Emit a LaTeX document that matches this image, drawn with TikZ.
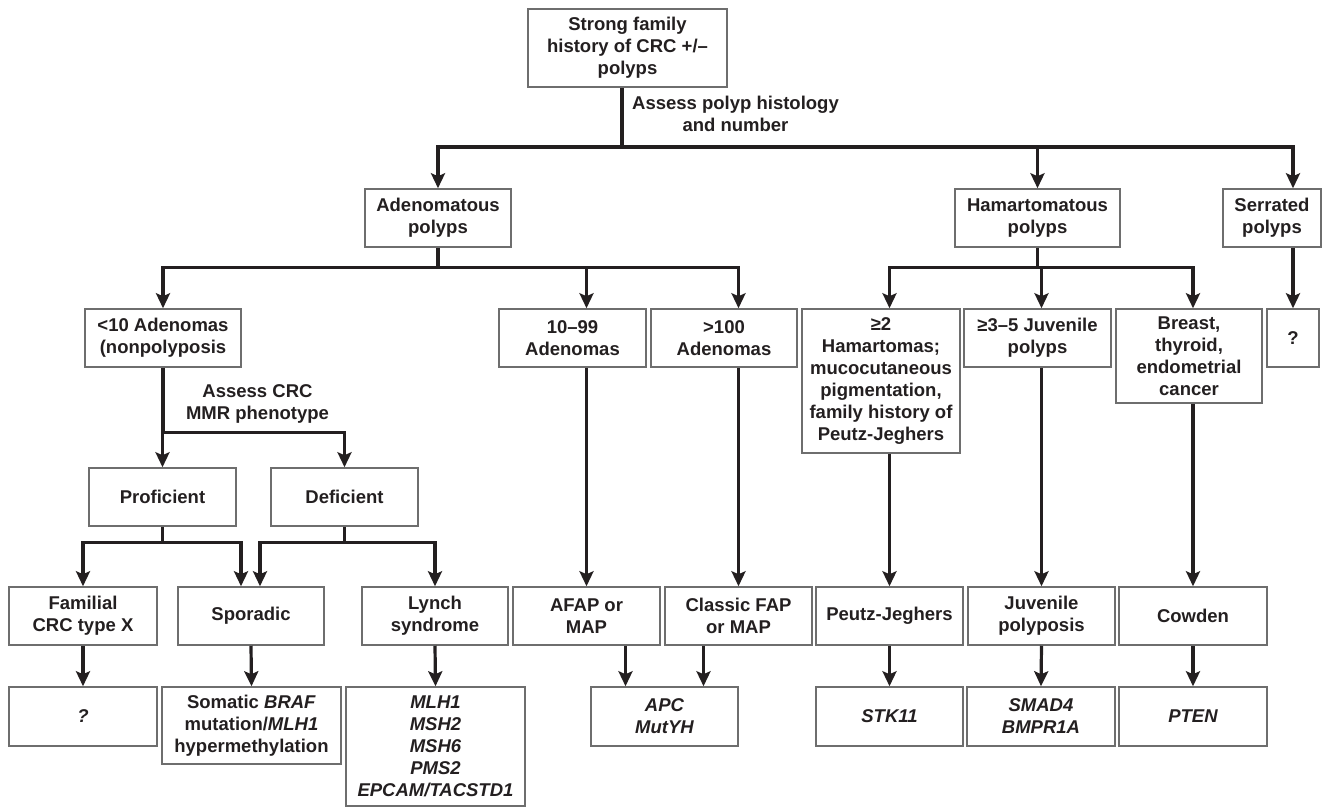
\documentclass[tikz,border=0pt]{standalone}
\usepackage{fontspec}
\setmainfont{Liberation Sans}
\usepackage{tikz}
\usetikzlibrary{positioning,calc,arrows.meta}
\definecolor{crcink}{HTML}{231F20}
\definecolor{crcframe}{HTML}{6E6E6E}
\tikzset{
  crc box/.style={rectangle, draw=crcframe, line width=1.5pt, align=center, inner sep=0pt,
    minimum width=147pt, minimum height=58pt, text=crcink,
    font=\fontsize{18.5}{22}\selectfont\bfseries},
  crc label/.style={align=center, inner sep=0pt, text=crcink,
    font=\fontsize{18.5}{22}\selectfont\bfseries},
  crc line/.style={draw=crcink, line width=3.2pt},
  crc arrow/.style={crc line, -{Stealth[length=15pt, width=14pt, inset=3pt]}}
}
\begin{document}
\begin{tikzpicture}[x=1pt, y=-1pt]
    \useasboundingbox (0,0) rectangle (1322,807);

    % Root
    \node [crc box, minimum width=199pt, minimum height=78pt] (Strong) at (627.5,48) {Strong family\\history of CRC +/–\\polyps};

    % Histology
    \node [crc box, minimum width=146pt] (Adeno) at (438,218) {Adenomatous\\polyps};
    \node [crc box, minimum width=165pt] (Hamar) at (1037.5,218) {Hamartomatous\\polyps};
    \node [crc box, minimum width=98pt] (Serrated) at (1272,218) {Serrated\\polyps};

    % Number / phenotype
    \node [crc box, minimum width=156pt] (LessTen) at (163,338) {<10 Adenomas\\(nonpolyposis};
    \node [crc box] (TenNN) at (572.5,338) {10–99\\Adenomas};
    \node [crc box, minimum width=146pt] (OverHundred) at (724,338) {>100\\Adenomas};
    \node [crc box, minimum width=158pt, minimum height=144pt] (TwoHam) at (881,381) {≥2\\Hamartomas;\\mucocutaneous\\pigmentation,\\family history of\\Peutz-Jeghers};
    \node [crc box] (JuvThree) at (1037.5,338) {≥3–5 Juvenile\\polyps};
    \node [crc box, minimum width=146pt, minimum height=94pt] (Breast) at (1189,356) {Breast,\\thyroid,\\endometrial\\cancer};
    \node [crc box, minimum width=52pt] (SerQ) at (1293,338) {?};

    % MMR
    \node [crc box] (Proficient) at (162.5,497) {Proficient};
    \node [crc box] (Deficient) at (344.5,497) {Deficient};

    % Syndromes
    \node [crc box, minimum width=148pt] (Familial) at (83,616) {Familial\\CRC type X};
    \node [crc box, minimum width=146pt] (Sporadic) at (251,616) {Sporadic};
    \node [crc box, minimum width=146pt] (Lynch) at (435,616) {Lynch\\syndrome};
    \node [crc box] (Afap) at (586.5,616) {AFAP or\\MAP};
    \node [crc box] (Classic) at (738.5,616) {Classic FAP\\or MAP};
    \node [crc box] (Peutz) at (889.5,616) {Peutz-Jeghers};
    \node [crc box] (JuvPol) at (1041.5,616) {Juvenile\\polyposis};
    \node [crc box, minimum width=148pt] (Cowden) at (1193,616) {Cowden};

    % Genes
    \node [crc box, minimum width=148pt, minimum height=59pt] (FamQ) at (83,716.5) {\itshape ?};
    \node [crc box, minimum width=179pt, minimum height=77pt] (Braf) at (251.5,725.5) {Somatic \textit{BRAF}\\mutation/\textit{MLH1}\\hypermethylation};
    \node [crc box, minimum width=179pt, minimum height=119pt] (LynchGenes) at (435.5,746.5) {\itshape MLH1\\\itshape MSH2\\\itshape MSH6\\\itshape PMS2\\\itshape EPCAM/TACSTD1};
    \node [crc box, minimum height=59pt] (Apc) at (664.5,716.5) {\itshape APC\\\itshape MutYH};
    \node [crc box, minimum height=59pt] (Stk) at (889.5,716.5) {\itshape STK11};
    \node [crc box, minimum width=148pt, minimum height=59pt] (Smad) at (1041,716.5) {\itshape SMAD4\\\itshape BMPR1A};
    \node [crc box, minimum width=148pt, minimum height=59pt] (Pten) at (1193,716.5) {\itshape PTEN};

    % Labels
    \node [crc label] (AssessPolyp) at (735.5,114) {Assess polyp histology\\and number};
    \node [crc label] (AssessMmr) at (257.5,404) {Assess CRC\\MMR phenotype};

    % Connections
    \coordinate (TopBar) at (622,147);
    \draw [crc line] (Strong.south -| TopBar) -- (TopBar);
    \draw [crc arrow] (TopBar) -| (Adeno.north);
    \draw [crc arrow] (TopBar) -| (Hamar.north);
    \draw [crc arrow] (TopBar) -| (Serrated.north -| SerQ.north);

    \draw [crc line] (Adeno.south) -- ++(0,20) coordinate (AdenoBar);
    \draw [crc arrow] (AdenoBar) -| (LessTen.north);
    \draw [crc arrow] (AdenoBar) -| (TenNN.north -| Afap.north);
    \draw [crc arrow] (AdenoBar) -| (OverHundred.north -| Classic.north);

    \draw [crc line] (Hamar.south) -- ++(0,20) coordinate (HamarBar);
    \draw [crc arrow] (HamarBar) -| (TwoHam.north -| Peutz.north);
    \draw [crc arrow] (HamarBar) -| (JuvThree.north -| JuvPol.north);
    \draw [crc arrow] (HamarBar) -| (Breast.north -| Cowden.north);
    \draw [crc arrow] (Serrated.south -| SerQ.north) -- (SerQ.north);

    \draw [crc line] (LessTen.south) -- ++(0,65) coordinate (MmrBar);
    \draw [crc arrow] (MmrBar) -| (Proficient.north);
    \draw [crc arrow] (MmrBar) -| (Deficient.north);

    \draw [crc line] (Proficient.south) -- ++(0,16) coordinate (ProfBar);
    \draw [crc arrow] (ProfBar) -| (Familial.north);
    \draw [crc arrow] (ProfBar) -| ([xshift=-10pt]Sporadic.north);
    \draw [crc line] (Deficient.south) -- ++(0,16) coordinate (DefBar);
    \draw [crc arrow] (DefBar) -| ([xshift=9pt]Sporadic.north);
    \draw [crc arrow] (DefBar) -| (Lynch.north);

    \draw [crc arrow] (TenNN.south -| Afap.north) -- (Afap.north);
    \draw [crc arrow] (OverHundred.south -| Classic.north) -- (Classic.north);
    \draw [crc arrow] (TwoHam.south -| Peutz.north) -- (Peutz.north);
    \draw [crc arrow] (JuvThree.south -| JuvPol.north) -- (JuvPol.north);
    \draw [crc arrow] (Breast.south -| Cowden.north) -- (Cowden.north);

    \draw [crc arrow] (Familial.south) -- (FamQ.north);
    \draw [crc arrow] (Sporadic.south) -- (Braf.north);
    \draw [crc arrow] (Lynch.south) -- (LynchGenes.north);
    \draw [crc arrow] ([xshift=-39pt]Apc.north |- Afap.south) -- ([xshift=-39pt]Apc.north);
    \draw [crc arrow] ([xshift=39pt]Apc.north |- Classic.south) -- ([xshift=39pt]Apc.north);
    \draw [crc arrow] (Peutz.south) -- (Stk.north);
    \draw [crc arrow] (JuvPol.south) -- (Smad.north);
    \draw [crc arrow] (Cowden.south) -- (Pten.north);
\end{tikzpicture}
\end{document}
